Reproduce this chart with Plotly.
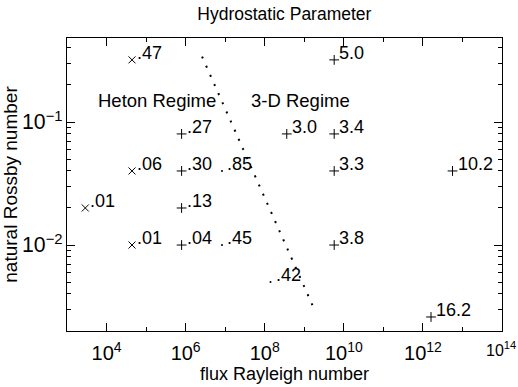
import math
import plotly.graph_objects as go

# crosses (x markers)
x_cross = [2.9e3, 4.4e4, 4.4e4, 4.4e4]
y_cross = [0.02, 0.32, 0.04, 0.01]
lab_cross = [".01", ".47", ".06", ".01"]

# plus markers
x_plus = [7.9e5, 7.9e5, 7.9e5, 7.9e5, 3.6e8, 5.7e9, 5.7e9, 5.7e9, 5.7e9, 5.6e12, 1.6e12]
y_plus = [0.08, 0.04, 0.02, 0.01, 0.08, 0.32, 0.08, 0.04, 0.01, 0.04, 0.0026]
lab_plus = [".27", ".30", ".13", ".04", "3.0", "5.0", "3.4", "3.3", "3.8", "10.2", "16.2"]

# small dot markers
x_dot = [8.3e6, 8.3e6, 1.4e8]
y_dot = [0.04, 0.01, 0.005]
lab_dot = [".85", ".45", ".42"]

# regime boundary
bound_x = [2.6e6, 1.6e9]
bound_y = [0.34, 0.00325]

regime_text = ["Heton Regime", "3-D Regime"]
regime_x = [5.4e3, 4.1e7]
regime_y = [0.15, 0.15]

# last x tick label (at the right edge of the axis, 10^14)
edge_tick_text = "10<sup>14</sup>"

FONT = "Liberation Sans, Arial, Helvetica, sans-serif"
L = math.log10

fig = go.Figure()
fig.add_trace(go.Scatter(x=bound_x, y=bound_y, mode="lines",
                         line=dict(color="black", width=2, dash="2px,8px"),
                         hoverinfo="skip", showlegend=False))
fig.add_trace(go.Scatter(x=x_cross, y=y_cross, mode="markers",
                         marker=dict(symbol="x-thin", size=7, line=dict(color="black", width=1)),
                         showlegend=False))
fig.add_trace(go.Scatter(x=x_plus, y=y_plus, mode="markers",
                         marker=dict(symbol="cross-thin", size=7, line=dict(color="black", width=1)),
                         showlegend=False))
fig.add_trace(go.Scatter(x=x_dot, y=y_dot, mode="markers",
                         marker=dict(symbol="circle", size=2, color="black"),
                         showlegend=False))

for xs, ys, labs in [(x_cross, y_cross, lab_cross), (x_plus, y_plus, lab_plus), (x_dot, y_dot, lab_dot)]:
    for xv, yv, t in zip(xs, ys, labs):
        fig.add_annotation(x=L(xv), y=L(yv), xref="x", yref="y", text=t, showarrow=False,
                           xanchor="left", yanchor="middle", xshift=3, yshift=7,
                           font=dict(size=18, color="black", family=FONT))

for t, xv, yv in zip(regime_text, regime_x, regime_y):
    fig.add_annotation(x=L(xv), y=L(yv), xref="x", yref="y", text=t, showarrow=False,
                       xanchor="left", yanchor="middle",
                       font=dict(size=18.5, color="black", family=FONT))

# the last x tick label sits at the very edge of the page: right-align it so it stays visible
fig.add_annotation(x=1, y=0, xref="paper", yref="paper", text=edge_tick_text,
                   showarrow=False, xanchor="right", yanchor="top", xshift=16, yshift=-6,
                   font=dict(size=16, color="black", family=FONT))

fig.update_layout(
    width=518, height=387,
    margin=dict(l=67, r=16, t=38, b=56),
    paper_bgcolor="white", plot_bgcolor="white",
    font=dict(family=FONT, color="black", size=16),
    title=dict(text="Hydrostatic Parameter", x=0.549, xanchor="center", y=0.965, yanchor="middle",
               font=dict(size=17.5, family=FONT, color="black")),
)
fig.update_xaxes(type="log", range=[3, 13.999], dtick=2, tick0=0, ticks="inside", ticklen=8,
                 tickcolor="black", showline=True, linecolor="black", linewidth=1, mirror="ticks",
                 showgrid=False, zeroline=False, exponentformat="power", ticklabelstandoff=5,
                 automargin=False,
                 tickfont=dict(size=16, family=FONT),
                 minor=dict(ticks="inside", ticklen=4, dtick=1, tickcolor="black", showgrid=False),
                 title=dict(text="flux Rayleigh number", font=dict(size=18, family=FONT), standoff=2))
fig.update_yaxes(type="log", range=[-2.699, -0.317], dtick=1, ticks="inside", ticklen=8,
                 tickcolor="black", showline=True, linecolor="black", linewidth=1, mirror="ticks",
                 showgrid=False, zeroline=False, exponentformat="power", automargin=False,
                 tickfont=dict(size=17, family=FONT),
                 minor=dict(ticks="inside", ticklen=4, dtick="D1", tickcolor="black", showgrid=False),
                 title=dict(text="natural Rossby number", font=dict(size=19, family=FONT), standoff=2))

fig.write_html("out.html")
